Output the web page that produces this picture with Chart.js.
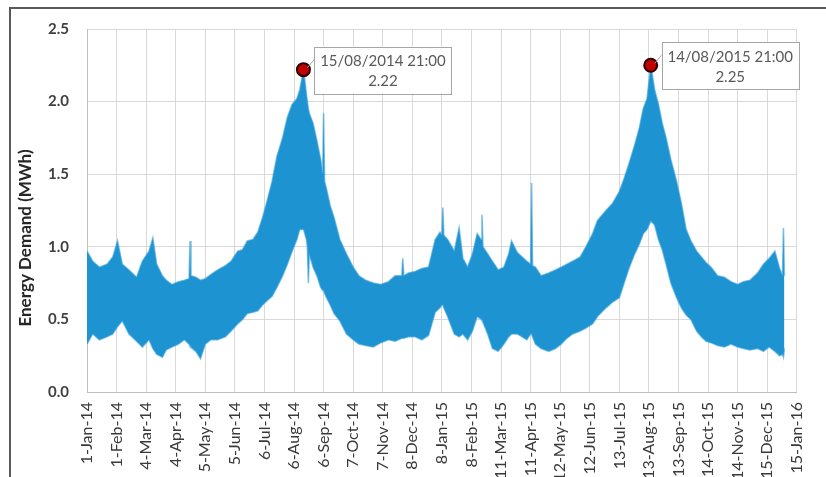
<!DOCTYPE html>
<html><head><meta charset="utf-8">
<script src="https://cdn.jsdelivr.net/npm/chart.js@4/dist/chart.umd.min.js"></script>
<style>
html,body{margin:0;padding:0;background:#fff;}
#wrap{position:relative;width:826px;height:477px;overflow:hidden;background:#fff;}
#frame{position:absolute;left:9px;top:7px;width:840px;height:490px;border-top:2px solid #5a5a5a;border-left:2px solid #5a5a5a;}
canvas{position:absolute;left:0;top:0;}
</style></head>
<body><div id="wrap"><div id="frame"></div><canvas id="c" width="826" height="477"></canvas></div>
<script>
// day index since 1-Jan-2014
const days  = [0,6,13,21,27,32,37,44,52,58,65,69,73,79,83,89,96,102,107,108,109,114,119,124,130,137,145,151,158,163,168,174,179,184,189,194,199,205,210,215,220,223,227,230,231,232,233,237,241,245,247,248,249,251,255,259,265,272,279,285,292,300,308,316,323,330,331,332,337,344,351,358,365,370,372,373,374,378,385,390,394,399,404,409,413,414,415,420,425,431,437,442,445,451,456,461,465,466,467,470,476,484,491,497,503,509,517,523,530,535,544,551,558,563,568,574,579,583,587,591,595,599,603,607,612,618,623,628,633,639,644,649,654,661,668,675,682,688,695,703,709,715,721,726,729,730,731];
const upper = [0.97,0.90,0.86,0.88,0.93,1.04,0.88,0.84,0.79,0.90,0.97,1.06,0.88,0.80,0.77,0.74,0.76,0.77,0.78,1.04,0.80,0.79,0.77,0.78,0.81,0.84,0.87,0.90,0.97,0.98,1.04,1.05,1.10,1.20,1.32,1.45,1.62,1.75,1.89,1.98,2.02,2.08,2.22,2.05,2.00,1.95,1.92,1.85,1.73,1.60,1.50,1.92,1.45,1.40,1.28,1.20,1.05,0.95,0.86,0.80,0.77,0.75,0.74,0.76,0.80,0.80,0.92,0.80,0.82,0.83,0.85,0.86,1.05,1.10,1.08,1.27,1.08,1.05,0.97,1.13,0.92,0.86,0.95,1.09,1.05,1.22,1.00,0.95,0.90,0.84,0.86,0.95,1.04,0.96,0.93,0.90,0.88,1.44,0.87,0.86,0.80,0.82,0.84,0.86,0.88,0.90,0.93,1.00,1.09,1.18,1.25,1.30,1.38,1.47,1.57,1.70,1.82,1.95,2.02,2.25,2.08,1.98,1.85,1.75,1.60,1.45,1.30,1.12,1.04,0.97,0.93,0.89,0.86,0.80,0.79,0.76,0.74,0.76,0.77,0.82,0.88,0.92,0.97,0.85,0.80,1.13,0.80];
const lower = [0.33,0.40,0.36,0.38,0.40,0.45,0.49,0.40,0.35,0.31,0.36,0.30,0.26,0.24,0.29,0.31,0.33,0.36,0.33,0.31,0.31,0.28,0.23,0.33,0.36,0.36,0.38,0.42,0.47,0.50,0.54,0.55,0.56,0.60,0.63,0.66,0.72,0.80,0.88,0.97,1.05,1.12,1.12,1.05,1.00,0.75,0.95,0.86,0.80,0.72,0.70,0.70,0.68,0.65,0.60,0.54,0.49,0.40,0.36,0.33,0.32,0.31,0.34,0.36,0.35,0.37,0.37,0.37,0.38,0.38,0.36,0.39,0.55,0.58,0.60,0.60,0.58,0.52,0.40,0.38,0.40,0.36,0.42,0.52,0.50,0.50,0.48,0.40,0.30,0.28,0.33,0.38,0.40,0.40,0.38,0.36,0.40,0.40,0.38,0.33,0.30,0.28,0.30,0.33,0.37,0.40,0.42,0.44,0.47,0.52,0.58,0.62,0.65,0.75,0.85,0.95,1.02,1.09,1.12,1.18,1.15,1.05,0.98,0.88,0.75,0.65,0.58,0.53,0.50,0.42,0.38,0.35,0.34,0.32,0.31,0.33,0.31,0.30,0.29,0.30,0.28,0.31,0.28,0.25,0.26,0.24,0.30];

const xTickLabels = ['1-Jan-14','1-Feb-14','4-Mar-14','4-Apr-14','5-May-14','5-Jun-14','6-Jul-14','6-Aug-14','6-Sep-14','7-Oct-14','7-Nov-14','8-Dec-14','8-Jan-15','8-Feb-15','11-Mar-15','11-Apr-15','12-May-15','12-Jun-15','13-Jul-15','13-Aug-15','13-Sep-15','14-Oct-15','14-Nov-15','15-Dec-15','15-Jan-16'];
const xTickStep = 31;
const yTicks = [0, 0.5, 1.0, 1.5, 2.0, 2.5];
const yTitle = 'Energy Demand (MWh)';

const peakDays   = [226.875, 590.875];
const peakValues = [2.22, 2.25];
const peakLabels = ['15/08/2014 21:00', '14/08/2015 21:00'];

const BLUE = '#1d93d1';
const EDGE = 'rgba(45,155,215,0.6)';
const FONT = 'Lato, "Open Sans", sans-serif';

const toXY = (ys) => days.map((d, i) => ({x: d, y: ys[i]}));

const calloutPlugin = {
  id: 'callouts',
  afterDatasetsDraw(chart) {
    const {ctx, scales: {x, y}} = chart;
    ctx.save();
    peakDays.forEach((d, i) => {
      const px = x.getPixelForValue(d), py = y.getPixelForValue(peakValues[i]);
      const bx = px + 11, by = py - 23, bw = 137, bh = 47;
      ctx.strokeStyle = '#a6a6a6'; ctx.lineWidth = 1;
      ctx.beginPath(); ctx.moveTo(px + 4, py - 2); ctx.lineTo(bx + 0.5, by + 12); ctx.stroke();
      ctx.fillStyle = '#fff';
      ctx.fillRect(bx, by, bw, bh);
      ctx.strokeRect(Math.round(bx) + 0.5, Math.round(by) + 0.5, bw, bh);
      ctx.fillStyle = '#595959';
      ctx.font = '15px ' + FONT;
      ctx.textAlign = 'center'; ctx.textBaseline = 'middle';
      ctx.fillText(peakLabels[i], bx + bw / 2, by + 15);
      ctx.fillText(peakValues[i].toFixed(2), bx + bw / 2, by + 35);
    });
    ctx.restore();
  }
};

const yTitlePlugin = {
  id: 'ytitle',
  afterDraw(chart) {
    const {ctx} = chart;
    ctx.save();
    ctx.translate(26, 238);
    ctx.rotate(-Math.PI / 2);
    ctx.font = 'bold 17px ' + FONT;
    ctx.fillStyle = '#262626';
    ctx.textAlign = 'center'; ctx.textBaseline = 'middle';
    ctx.fillText(yTitle, 0, 0);
    ctx.restore();
  }
};

new Chart(document.getElementById('c'), {
  type: 'line',
  data: {
    datasets: [
      {
        type: 'scatter',
        data: peakDays.map((d, i) => ({x: d, y: peakValues[i]})),
        pointRadius: 6.5, pointBackgroundColor: '#c00000', pointBorderColor: '#2a0000', pointBorderWidth: 2,
        showLine: false
      },
      {
        data: toXY(lower), borderColor: EDGE, borderWidth: 1.6, pointRadius: 0, fill: false, tension: 0
      },
      {
        data: toXY(upper), borderColor: EDGE, borderWidth: 1.6, pointRadius: 0, tension: 0,
        fill: '-1', backgroundColor: BLUE
      }
    ]
  },
  options: {
    responsive: false, animation: false,
    layout: {padding: {top: 29, right: 18, bottom: 0, left: 0}},
    plugins: {legend: {display: false}, tooltip: {enabled: false}},
    scales: {
      x: {
        type: 'linear', min: 0, max: xTickStep * (xTickLabels.length - 1),
        afterBuildTicks: (s) => { s.ticks = xTickLabels.map((_, i) => ({value: i * xTickStep})); },
        afterFit: (s) => { s.height = 85; },
        grid: {color: '#d9d9d9', drawTicks: false},
        border: {color: '#bfbfbf'},
        ticks: {
          autoSkip: false, maxRotation: 90, minRotation: 90, padding: 10,
          color: '#3a3a3a', font: {family: FONT, size: 16},
          callback: (v) => xTickLabels[Math.round(v / xTickStep)]
        }
      },
      y: {
        min: 0, max: 2.5,
        afterBuildTicks: (s) => { s.ticks = yTicks.map(v => ({value: v})); },
        afterFit: (s) => { s.width = 87; },
        grid: {color: '#d9d9d9', drawTicks: false},
        border: {color: '#bfbfbf'},
        ticks: {
          padding: 18, color: '#404040', font: {family: FONT, size: 15, weight: 'bold'},
          callback: (v) => v.toFixed(1)
        }
      }
    }
  },
  plugins: [calloutPlugin, yTitlePlugin]
});
</script>
</body></html>
